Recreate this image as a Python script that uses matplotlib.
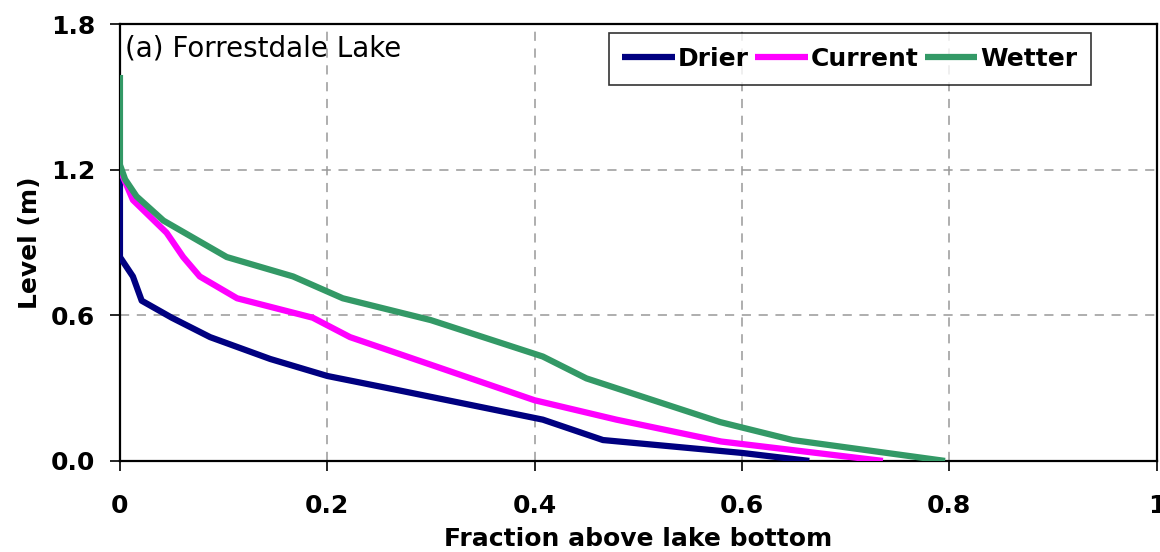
import matplotlib.pyplot as plt
from matplotlib.ticker import FixedLocator

# fraction of lake area above bottom vs level
drier_x = [0.0, 0.0, 0.0125, 0.021, 0.05, 0.087, 0.145, 0.2, 0.27, 0.408, 0.466, 0.60, 0.665]
drier_y = [1.2, 0.84, 0.76, 0.66, 0.59, 0.51, 0.42, 0.35, 0.29, 0.17, 0.086, 0.033, 0.0]

current_x = [0.0, 0.0125, 0.045, 0.061, 0.077, 0.113, 0.186, 0.222, 0.27, 0.40, 0.479, 0.58, 0.736]
current_y = [1.2, 1.075, 0.94, 0.84, 0.76, 0.67, 0.59, 0.51, 0.44, 0.25, 0.17, 0.08, 0.0]

wetter_x = [0.0, 0.0, 0.005, 0.016, 0.042, 0.103, 0.167, 0.215, 0.30, 0.408, 0.45, 0.579, 0.649, 0.796]
wetter_y = [1.59, 1.22, 1.16, 1.09, 0.99, 0.84, 0.76, 0.67, 0.58, 0.43, 0.34, 0.16, 0.086, 0.0]

xticks = [0, 0.2, 0.4, 0.6, 0.8, 1]
xticklabels = ["0", "0.2", "0.4", "0.6", "0.8", "1"]
yticks = [0.0, 0.6, 1.2, 1.8]
yticklabels = ["0.0", "0.6", "1.2", "1.8"]

plt.rcParams['font.family'] = ['DejaVu Sans']

fig = plt.figure(figsize=(11.6, 5.52), dpi=100)
ax = fig.add_axes([0.1034, 0.165, 0.8936, 0.7915])

ax.plot(drier_x, drier_y, color="#000080", lw=4.5, label="Drier", solid_capstyle="butt", zorder=3)
ax.plot(current_x, current_y, color="#ff00ff", lw=4.5, label="Current", solid_capstyle="butt", zorder=4)
ax.plot(wetter_x, wetter_y, color="#339966", lw=4.5, label="Wetter", solid_capstyle="butt", zorder=5)

ax.set_xlim(0, 1)
ax.set_ylim(0, 1.8)
ax.xaxis.set_major_locator(FixedLocator(xticks))
ax.yaxis.set_major_locator(FixedLocator(yticks))
ax.set_xticklabels(xticklabels, fontsize=18, fontweight="bold")
ax.set_yticklabels(yticklabels, fontsize=18, fontweight="bold")
ax.tick_params(axis="y", direction="out", length=7, width=1.2, pad=11)
ax.tick_params(axis="x", direction="out", length=7, width=1.2, pad=17)

ax.grid(True, color="#999999", linestyle=(0, (6, 5)), linewidth=1.1)
for s in ax.spines.values():
    s.set_linewidth(1.6)
    s.set_color("black")

ax.set_xlabel("Fraction above lake bottom", fontsize=18, fontweight="bold", labelpad=6)
ax.set_ylabel("Level (m)", fontsize=18, fontweight="bold", labelpad=6)

ax.text(0.005, 0.975, "(a) Forrestdale Lake", transform=ax.transAxes,
        fontsize=20, va="top", ha="left")

leg = ax.legend(loc="upper right", bbox_to_anchor=(0.937, 0.979), ncol=3,
                prop={"size": 18, "weight": "bold"}, frameon=True, fancybox=False,
                handlelength=2.1, handletextpad=0.12, columnspacing=0.25,
                borderpad=0.55, borderaxespad=0)
leg.get_frame().set_edgecolor("black")
leg.get_frame().set_linewidth(1.2)

fig.savefig("out.png", dpi=100)
